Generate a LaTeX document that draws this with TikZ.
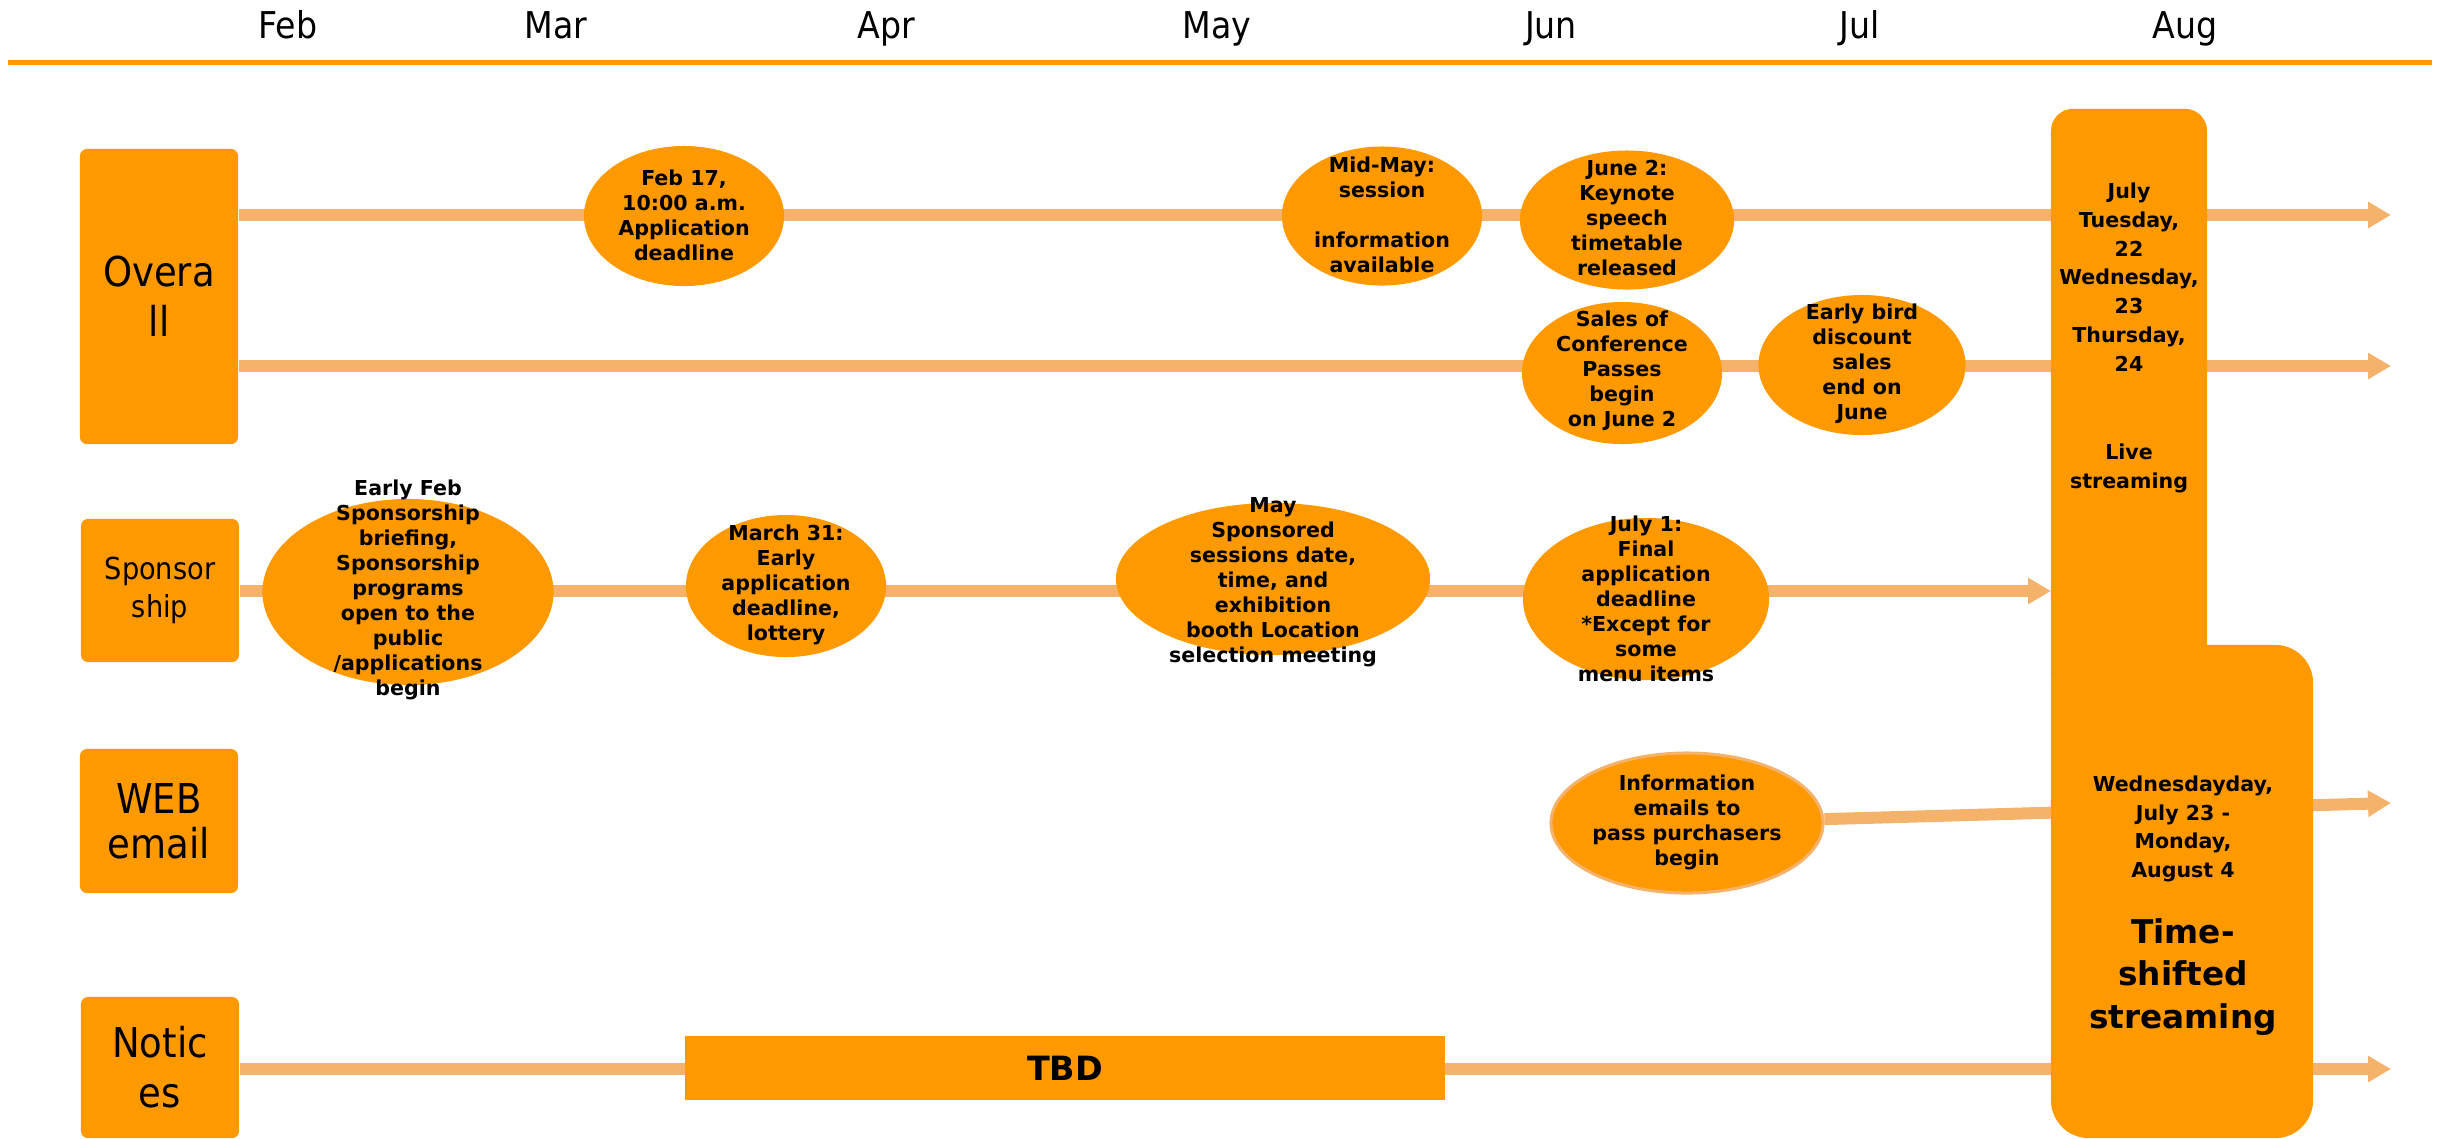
\documentclass[tikz,border=0pt]{standalone}
\usepackage{fontspec}
\setmainfont{DejaVu Sans}
\newfontfamily\labfont{DejaVu Sans}[FakeStretch=0.9]
\usetikzlibrary{shapes.geometric,arrows.meta}
\definecolor{mor}{RGB}{255,153,0}
\definecolor{lor}{RGB}{245,178,107}
\pgfdeclarelayer{bg}
\pgfsetlayers{bg,main}
\begin{document}
\begin{tikzpicture}[x=0.01cm,y=-0.01cm,
  ev/.style={ellipse, fill=mor, inner sep=0},
  et/.style={align=center, font=\bfseries\fontsize{5.85}{7.1}\selectfont, inner sep=0},
  rowbox/.style={rectangle, fill=mor, rounded corners=2pt, inner sep=0, align=center, minimum width=1.58cm},
  flow/.style={draw=lor, line width=0.12cm, -{Triangle[length=0.23cm,width=0.25cm]}},
  month/.style={font=\labfont\fontsize{10.5}{12}\selectfont, anchor=base},
  bigshape/.style={fill=mor, inner sep=0}
]
\useasboundingbox (0,0) rectangle (2440,1138);

% months
\node[month] (mFeb) at (288,38) {Feb};
\node[month] (mMar) at (556,38) {Mar};
\node[month] (mApr) at (886,38) {Apr};
\node[month] (mMay) at (1217,38) {May};
\node[month] (mJun) at (1551,38) {Jun};
\node[month] (mJul) at (1860,38) {Jul};
\node[month] (mAug) at (2185,38) {Aug};
\coordinate (tl1) at (8,62);
\coordinate (tl2) at (2432,62);
\draw[mor, line width=0.05cm] (tl1) -- (tl2);

% row boxes
\node[rowbox, minimum height=2.95cm, font=\labfont\fontsize{11.7}{14.2}\selectfont] (overall) at (159,296.5) {Overa\\ll};
\node[rowbox, minimum height=1.43cm, font=\labfont\fontsize{8.6}{11}\selectfont] (spons) at (160,590.5) {Sponsor\\ship};
\node[rowbox, minimum height=1.44cm, font=\labfont\fontsize{11.7}{12.8}\selectfont] (web) at (159,821) {WEB\\email};
\node[rowbox, minimum height=1.41cm, font=\labfont\fontsize{11.7}{14.2}\selectfont] (notices) at (160,1067.5) {Notic\\es};

% ellipses
\node[ev, minimum width=2cm, minimum height=1.4cm] (e1) at (684,216) {};
\node[et] (t1) at (684,215) {Feb 17,\\10:00 a.m.\\Application\\deadline};
\node[ev, minimum width=2cm, minimum height=1.39cm] (e2) at (1382,216) {};
\node[et] (t2) at (1382,215) {Mid-May:\\session\\[7.1pt]information\\available};
\node[ev, minimum width=2.14cm, minimum height=1.39cm] (e3) at (1627,220) {};
\node[et] (t3) at (1627,218) {June 2:\\Keynote\\speech\\timetable\\released};
\node[ev, minimum width=2cm, minimum height=1.42cm] (e4) at (1622,373) {};
\node[et] (t4) at (1622,371) {Sales of\\Conference\\Passes\\begin\\on June 2};
\node[ev, minimum width=2.07cm, minimum height=1.4cm] (e5) at (1862,365) {};
\node[et] (t5) at (1862,364) {Early bird\\discount\\sales\\end on\\June};
\node[ev, minimum width=2.91cm, minimum height=1.86cm] (e6) at (408,592) {};
\node[et] (t6) at (408,590) {Early Feb\\Sponsorship\\briefing,\\Sponsorship\\programs\\open to the\\public\\/applications\\begin};
\node[ev, minimum width=2cm, minimum height=1.42cm] (e7) at (786,586) {};
\node[et] (t7) at (786,585) {March 31:\\Early\\application\\deadline,\\lottery};
\node[ev, minimum width=3.14cm, minimum height=1.52cm] (e8) at (1273,579) {};
\node[et] (t8) at (1273,582) {May\\Sponsored\\sessions date,\\time, and\\exhibition\\booth Location\\selection meeting};
\node[ev, minimum width=2.46cm, minimum height=1.62cm] (e9) at (1646,599) {};
\node[et] (t9) at (1646,599) {July 1:\\Final\\application\\deadline\\*Except for\\some\\menu items};
\node[ev, draw=lor, line width=0.03cm, minimum width=2.72cm, minimum height=1.4cm] (info) at (1687,823) {};
\node[et] (t10) at (1687,822) {Information\\emails to\\pass purchasers\\begin};

% TBD
\node[fill=mor, minimum width=7.59cm, minimum height=0.64cm, inner sep=0, font=\bfseries\fontsize{9.5}{11}\selectfont] (tbd) at (1065,1068) {TBD};

% streaming shapes
\node[bigshape, rounded corners=0.22cm, minimum width=1.56cm, minimum height=5.9cm] (live) at (2129,404) {};
\node[bigshape, rounded corners=0.38cm, minimum width=2.62cm, minimum height=4.93cm] (shift) at (2182,891.5) {};
\node[et, font=\bfseries\fontsize{5.85}{8.2}\selectfont] (livet) at (2129,277) {July\\Tuesday,\\22\\Wednesday,\\23\\Thursday,\\24};
\node[et, font=\bfseries\fontsize{5.85}{8.2}\selectfont] (livel) at (2129,468) {Live\\streaming};
\node[et, font=\bfseries\fontsize{5.85}{8.1}\selectfont] (shiftd) at (2183,829) {Wednesdayday,\\July 23 -\\Monday,\\August 4};
\node[et, font=\bfseries\fontsize{9.3}{12}\selectfont] (shiftl) at (2183,977) {Time-\\shifted\\streaming};

% flow lines
\coordinate (r1e) at (2391,215);
\coordinate (r2e) at (2391,366);
\coordinate (r3e) at (2051,591);
\coordinate (r4e) at (2391,803);
\coordinate (r5e) at (2391,1069);
\begin{pgfonlayer}{bg}
\draw[flow] (overall.east |- r1e) -- (r1e);
\draw[flow] (overall.east |- r2e) -- (r2e);
\draw[flow] (spons.east |- r3e) -- (r3e);
\draw[flow] (info) -- (r4e);
\draw[flow] (notices.east |- r5e) -- (r5e);
\end{pgfonlayer}
\end{tikzpicture}
\end{document}
